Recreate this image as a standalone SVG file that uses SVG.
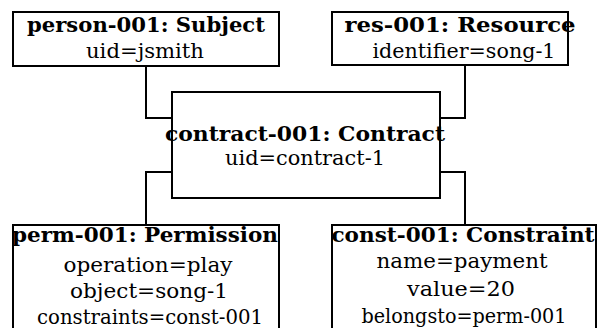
<svg xmlns="http://www.w3.org/2000/svg" width="599" height="328" viewBox="0 0 599 328">
<style>
.box{fill:#fff;stroke:#000;stroke-width:2}
.c{fill:none;stroke:#000;stroke-width:2}
.tx{font-family:'DejaVu Serif',serif;font-size:20px;text-anchor:middle;fill:#000}
.t{font-weight:bold}
</style>
<rect width="599" height="328" fill="#fff"/>
<g id="connectors">
<polyline class="c" points="146,66 146,118 172,118"/>
<polyline class="c" points="465,65 465,118 440,118"/>
<polyline class="c" points="172,172 146,172 146,225"/>
<polyline class="c" points="440,172 465,172 465,225"/>
</g>
<g id="person-001" class="tx">
<rect class="box" x="13" y="12" width="266" height="54"/>
<text class="t" x="146" y="32" textLength="238" lengthAdjust="spacingAndGlyphs">person-001: Subject</text>
<text x="145" y="58" textLength="118" lengthAdjust="spacingAndGlyphs">uid=jsmith</text>
</g>
<g id="res-001" class="tx">
<rect class="box" x="332" y="12" width="236" height="53"/>
<text class="t" x="460" y="32" textLength="231" lengthAdjust="spacingAndGlyphs">res-001: Resource</text>
<text x="464" y="58" textLength="183" lengthAdjust="spacingAndGlyphs">identifier=song-1</text>
</g>
<g id="contract-001" class="tx">
<rect class="box" x="172" y="92" width="268" height="106"/>
<text class="t" x="305" y="141" textLength="280" lengthAdjust="spacingAndGlyphs">contract-001: Contract</text>
<text x="305" y="165" textLength="160" lengthAdjust="spacingAndGlyphs">uid=contract-1</text>
</g>
<g id="perm-001" class="tx">
<rect class="box" x="13" y="225" width="266" height="110"/>
<text class="t" x="145" y="242" textLength="266" lengthAdjust="spacingAndGlyphs">perm-001: Permission</text>
<text x="148" y="272" textLength="169" lengthAdjust="spacingAndGlyphs">operation=play</text>
<text x="149" y="298" textLength="158" lengthAdjust="spacingAndGlyphs">object=song-1</text>
<text x="150" y="324" textLength="226" lengthAdjust="spacingAndGlyphs">constraints=const-001</text>
</g>
<g id="const-001" class="tx">
<rect class="box" x="332" y="225" width="264" height="110"/>
<text class="t" x="463" y="242" textLength="263" lengthAdjust="spacingAndGlyphs">const-001: Constraint</text>
<text x="462" y="268" textLength="171" lengthAdjust="spacingAndGlyphs">name=payment</text>
<text x="461" y="296" textLength="108" lengthAdjust="spacingAndGlyphs">value=20</text>
<text x="464" y="323" textLength="205" lengthAdjust="spacingAndGlyphs">belongsto=perm-001</text>
</g>
</svg>
